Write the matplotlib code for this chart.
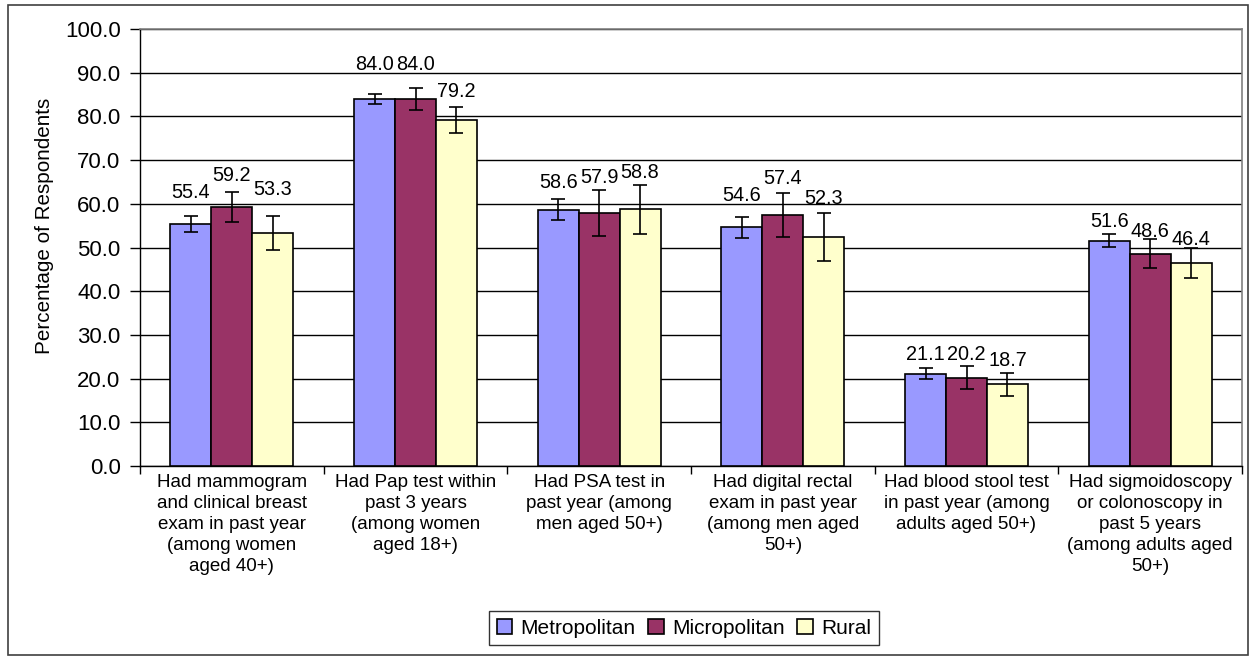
import matplotlib
matplotlib.use("Agg")
import matplotlib.pyplot as plt
import numpy as np
from matplotlib.patches import Rectangle

plt.rcParams['font.family'] = ['Liberation Sans', 'DejaVu Sans']

categories = [
    "Had mammogram\nand clinical breast\nexam in past year\n(among women\naged 40+)",
    "Had Pap test within\npast 3 years\n(among women\naged 18+)",
    "Had PSA test in\npast year (among\nmen aged 50+)",
    "Had digital rectal\nexam in past year\n(among men aged\n50+)",
    "Had blood stool test\nin past year (among\nadults aged 50+)",
    "Had sigmoidoscopy\nor colonoscopy in\npast 5 years\n(among adults aged\n50+)",
]
series = ["Metropolitan", "Micropolitan", "Rural"]
metro = [55.4, 84.0, 58.6, 54.6, 21.1, 51.6]
micro = [59.2, 84.0, 57.9, 57.4, 20.2, 48.6]
rural = [53.3, 79.2, 58.8, 52.3, 18.7, 46.4]
# half-widths of the confidence intervals
metro_err = [1.8, 1.1, 2.4, 2.4, 1.3, 1.5]
micro_err = [3.4, 2.5, 5.2, 5.0, 2.6, 3.3]
rural_err = [3.8, 2.9, 5.6, 5.5, 2.6, 3.4]
yticks = [0, 10, 20, 30, 40, 50, 60, 70, 80, 90, 100]

colors = ['#9999FF', '#993366', '#FFFFCC']
# label offsets above the bar tops (pixels), as placed in the original
label_offsets = [
    [31, 32, 44],
    [34, 34, 28],
    [27, 35, 37],
    [32, 37, 39],
    [19, 23, 24],
    [19, 22, 24],
]

fig = plt.figure(figsize=(12.54, 6.6), dpi=100)
ax = fig.add_axes([140 / 1254, 1 - 466 / 660, 1102 / 1254, 437 / 660])

x = np.arange(len(categories))
w = 0.223
values = [metro, micro, rural]
errs = [metro_err, micro_err, rural_err]

for i in range(3):
    xs = x + (i - 1) * w
    ax.bar(xs, values[i], w, color=colors[i], edgecolor='black', linewidth=1.2,
           label=series[i], zorder=3)
    ax.errorbar(xs, values[i], yerr=errs[i], fmt='none', ecolor='black',
                elinewidth=1.2, capsize=5, capthick=1.2, zorder=4)
    for j in range(len(categories)):
        ax.annotate(f"{values[i][j]:.1f}", (xs[j], values[i][j]),
                    xytext=(0, label_offsets[j][i]), textcoords='offset pixels',
                    ha='center', va='center', fontsize=14.3, zorder=5)

ax.set_xlim(-0.5, len(categories) - 0.5)
ax.set_ylim(0, 100)
ax.set_yticks(yticks)
ax.set_yticklabels([f"{t:.1f}" for t in yticks], fontsize=16)
ax.yaxis.grid(True, color='black', linewidth=1)
ax.set_axisbelow(True)
ax.tick_params(axis='y', direction='out', length=7, width=1, pad=7)

ax.set_xticks(np.arange(-0.5, len(categories), 1.0))
ax.set_xticklabels([])
ax.set_xticks(x, minor=True)
ax.set_xticklabels(categories, minor=True, fontsize=13.5, linespacing=1.3, va='top')
ax.tick_params(axis='x', which='major', direction='out', length=6, width=1)
ax.tick_params(axis='x', which='minor', length=0, pad=6)

ax.set_ylabel("Percentage of Respondents", fontsize=14.9)
ax.yaxis.set_label_coords(-86 / 1102, (466 - 226) / 437)

for s in ['top', 'right']:
    ax.spines[s].set_color('#808080')
    ax.spines[s].set_linewidth(1.2)
for s in ['left', 'bottom']:
    ax.spines[s].set_color('black')
    ax.spines[s].set_linewidth(1)

leg = fig.legend(loc='center', bbox_to_anchor=(684 / 1254, 1 - 628 / 660), ncol=3,
                 fontsize=15, frameon=True, fancybox=False, edgecolor='black',
                 handlelength=0.75, handleheight=0.75, handletextpad=0.4,
                 columnspacing=0.6, borderpad=0.35)
leg.get_frame().set_linewidth(1)

fig.patches.append(Rectangle((8 / 1254, 5 / 660), 1240 / 1254, 650 / 660,
                             transform=fig.transFigure, fill=False,
                             edgecolor='#404040', linewidth=1.2))

fig.savefig("out.png", dpi=100)
